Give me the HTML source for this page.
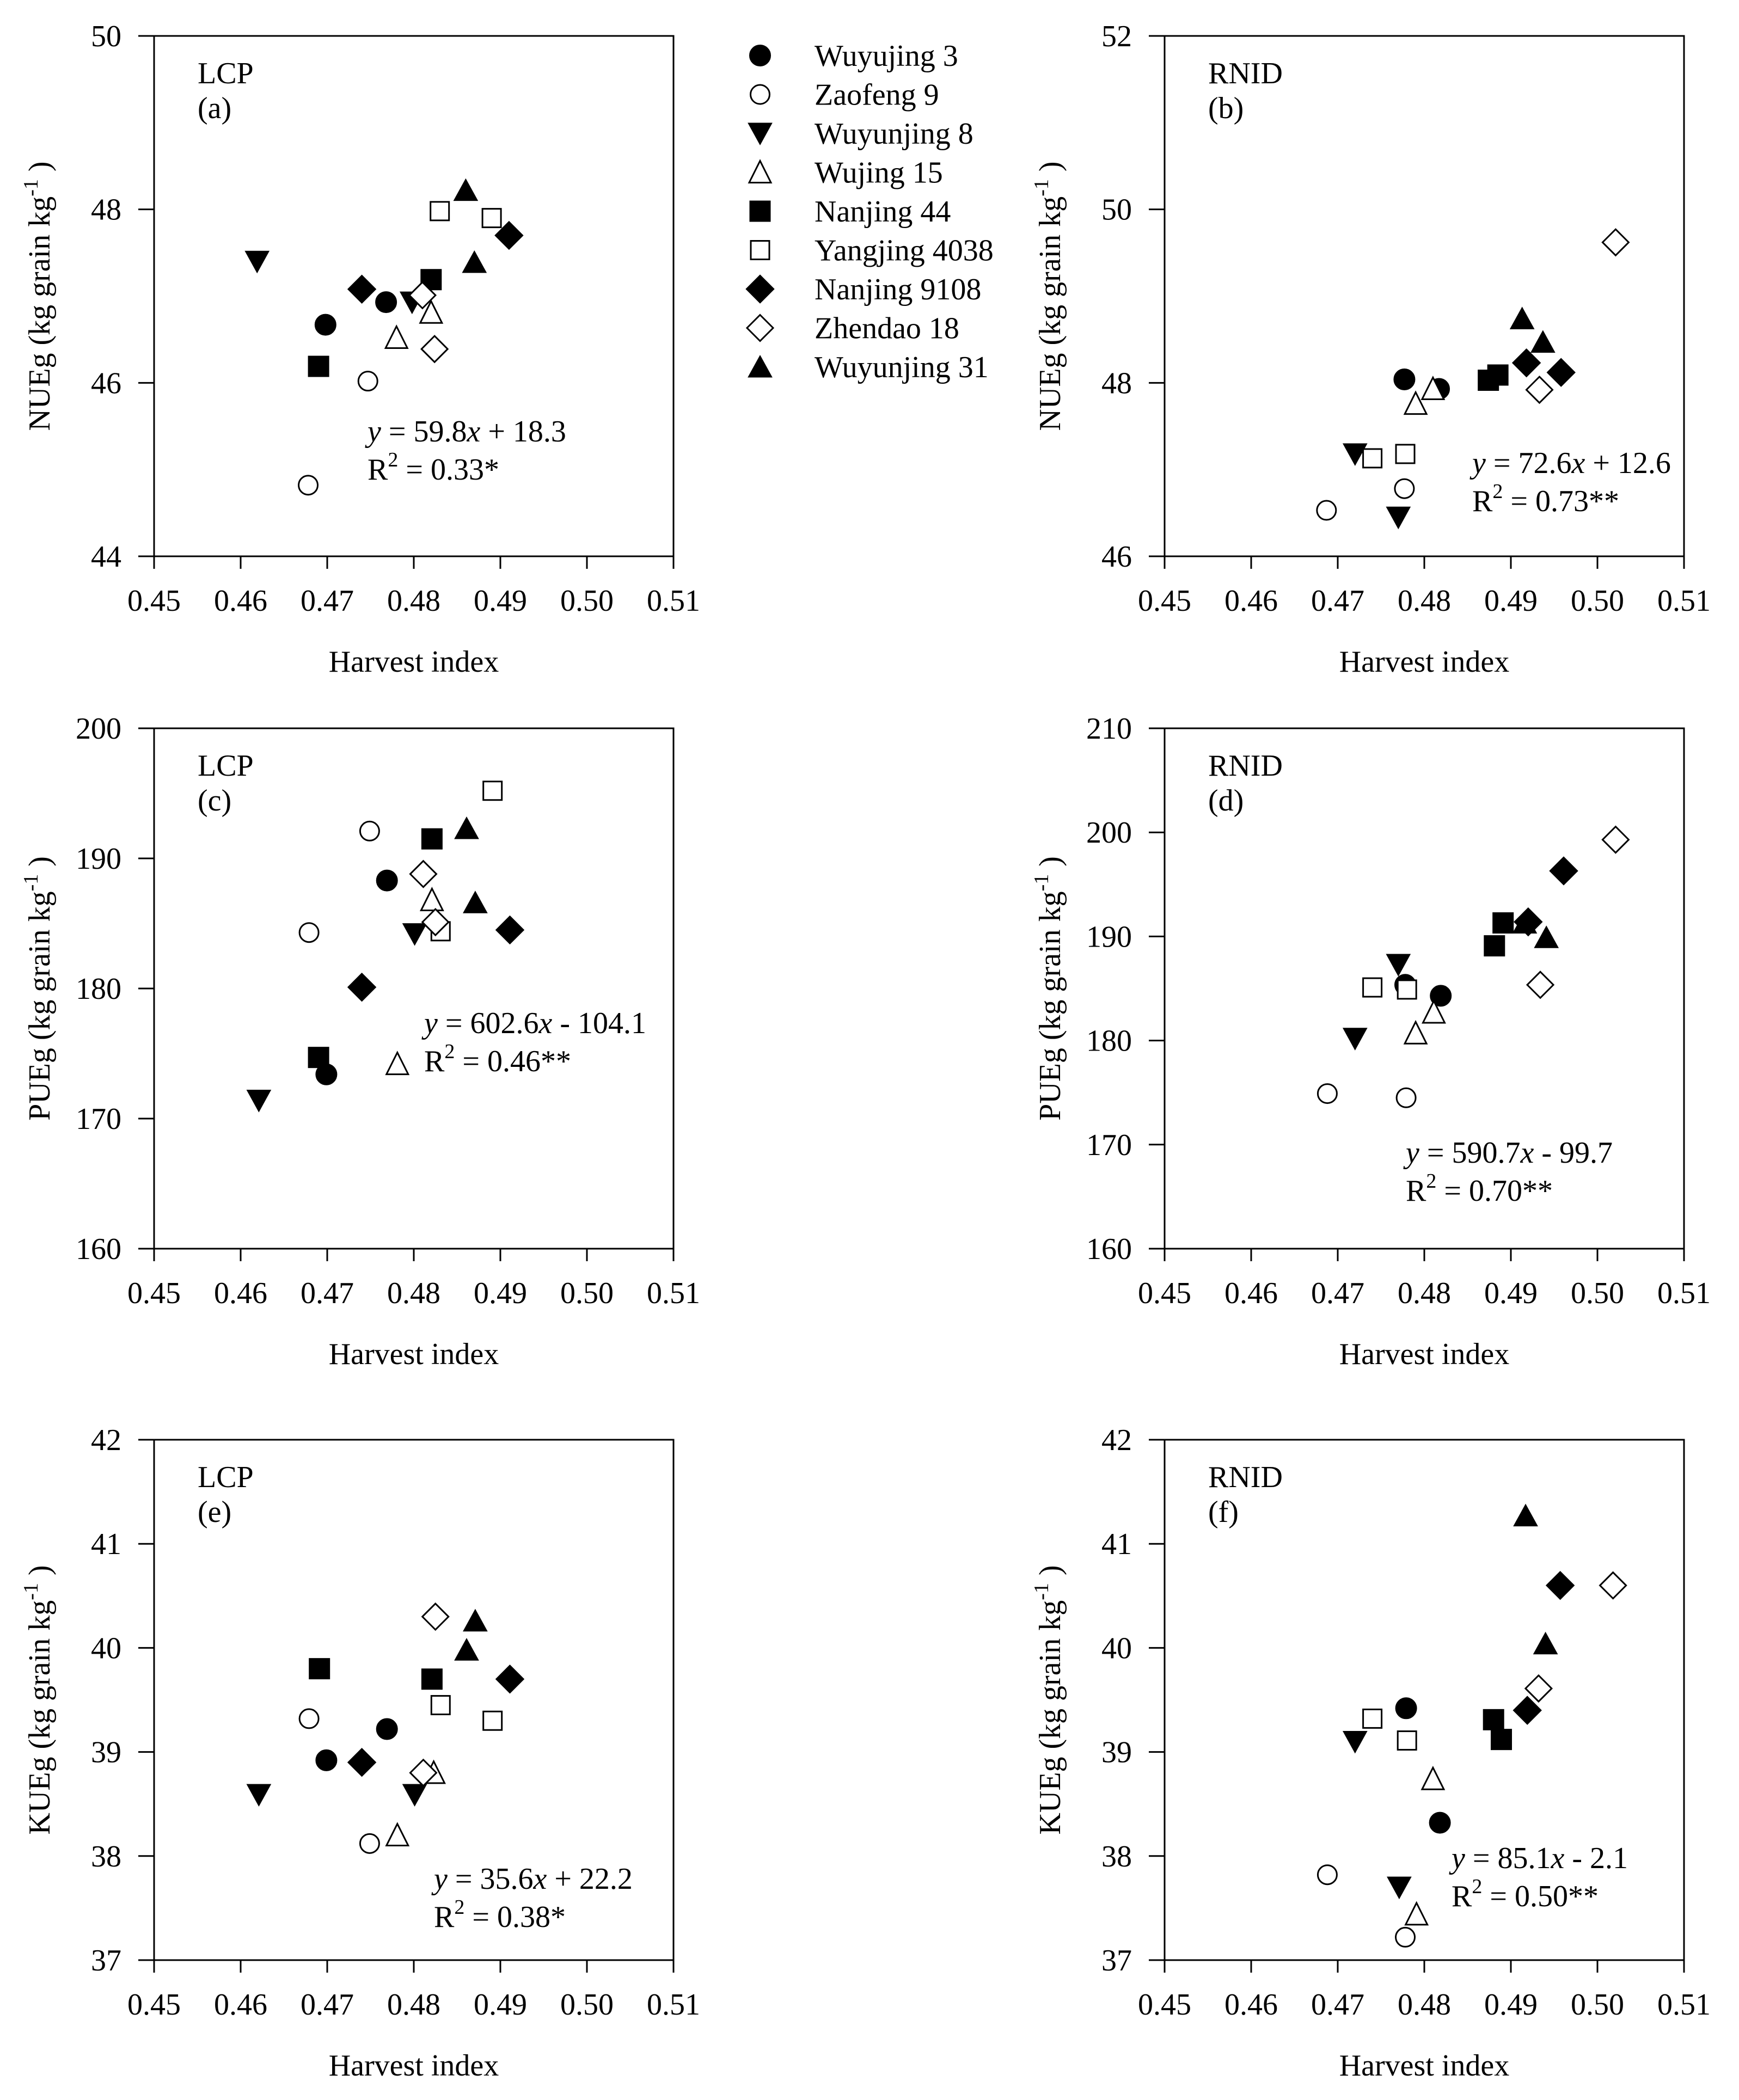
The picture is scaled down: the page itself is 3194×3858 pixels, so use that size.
<!DOCTYPE html>
<html><head><meta charset="utf-8"><style>
html,body{margin:0;padding:0;background:#fff;}
svg{display:block;font-family:"Liberation Serif","Times New Roman",serif;}
svg text{font-family:"Liberation Serif","Times New Roman",serif;}
</style></head><body>
<svg id="fig" width="3194" height="3858" viewBox="0 0 3194 3858" xmlns="http://www.w3.org/2000/svg"></svg>
<script>
// ---- data arrays (order: each variety twice) ----
const varieties = ["Wuyujing 3","Zaofeng 9","Wuyunjing 8","Wujing 15","Nanjing 44","Yangjing 4038","Nanjing 9108","Zhendao 18","Wuyunjing 31"];
const markerTypes = ["circleF","circleO","triDownF","triO","squareF","squareO","diamondF","diamondO","triF"];
const xTicks = [0.45,0.46,0.47,0.48,0.49,0.50,0.51];
const xTickLabels = ["0.45","0.46","0.47","0.48","0.49","0.50","0.51"];

const aX = [0.4698,0.4768,0.4747,0.4678,0.4619,0.4798,0.478,0.482,0.469,0.482,0.483,0.489,0.474,0.491,0.481,0.4824,0.486,0.487];
const aY = [46.67,46.93,46.02,44.82,47.40,46.93,46.52,46.81,46.19,47.19,47.98,47.90,47.08,47.70,47.01,46.39,48.22,47.39];
const bX = [0.4777,0.4817,0.4687,0.4777,0.472,0.477,0.479,0.481,0.4874,0.4885,0.474,0.4778,0.4918,0.4958,0.5021,0.4933,0.4913,0.4937];
const bY = [48.04,47.93,46.53,46.78,47.18,46.45,47.76,47.93,48.03,48.09,47.13,47.18,48.23,48.12,49.62,47.92,48.74,48.47];
const cX = [0.4769,0.4699,0.4749,0.4679,0.4621,0.4801,0.4821,0.4781,0.4821,0.4690,0.4891,0.4831,0.4740,0.4911,0.4811,0.4825,0.4861,0.4871];
const cY = [188.3,173.4,192.1,184.3,171.4,184.2,186.8,174.2,191.5,174.7,195.2,184.4,180.1,184.5,188.8,185.1,192.3,186.6];
const dX = [0.4778,0.4819,0.4688,0.4779,0.4770,0.4720,0.4811,0.4790,0.4891,0.4881,0.4740,0.4780,0.4920,0.4961,0.5021,0.4934,0.4916,0.4941];
const dY = [185.35,184.3,174.9,174.5,187.3,180.2,182.7,180.7,191.3,189.1,185.1,184.9,191.4,196.3,199.3,185.35,191.3,189.9];
const eX = [0.4699,0.4769,0.4679,0.4749,0.4621,0.4801,0.4781,0.4823,0.4691,0.4821,0.4831,0.4891,0.4740,0.4911,0.4825,0.4811,0.4871,0.4861];
const eY = [38.92,39.22,39.32,38.12,38.59,38.59,38.20,38.80,39.80,39.70,39.45,39.30,38.90,39.70,40.30,38.80,40.26,39.98];
const fX = [0.4779,0.4818,0.4688,0.4778,0.4720,0.4771,0.4810,0.4791,0.4880,0.4889,0.4740,0.4780,0.4919,0.4957,0.5018,0.4932,0.4917,0.4940];
const fY = [39.42,38.32,37.82,37.22,39.10,37.70,38.74,37.44,39.31,39.12,39.32,39.11,39.40,40.60,40.60,39.61,41.27,40.04];

const aYTicks = [44,46,48,50];
const bYTicks = [46,48,50,52];
const cYTicks = [160,170,180,190,200];
const dYTicks = [160,170,180,190,200,210];
const eYTicks = [37,38,39,40,41,42];
const fYTicks = [37,38,39,40,41,42];

const panels = [
 {id:"a",site:"LCP",lab:"(a)",L:283,T:66,xs:aX,ys:aY,yt:aYTicks,ytitle:"NUEg",eq1:["59.8","+ 18.3"],eq2:"0.33*",ex:392,ey:745},
 {id:"b",site:"RNID",lab:"(b)",L:2139,T:66,xs:bX,ys:bY,yt:bYTicks,ytitle:"NUEg",eq1:["72.6","+ 12.6"],eq2:"0.73**",ex:565,ey:803},
 {id:"c",site:"LCP",lab:"(c)",L:283,T:1338,xs:cX,ys:cY,yt:cYTicks,ytitle:"PUEg",eq1:["602.6","- 104.1"],eq2:"0.46**",ex:496,ey:560},
 {id:"d",site:"RNID",lab:"(d)",L:2139,T:1338,xs:dX,ys:dY,yt:dYTicks,ytitle:"PUEg",eq1:["590.7","- 99.7"],eq2:"0.70**",ex:443,ey:798},
 {id:"e",site:"LCP",lab:"(e)",L:283,T:2645,xs:eX,ys:eY,yt:eYTicks,ytitle:"KUEg",eq1:["35.6","+ 22.2"],eq2:"0.38*",ex:514,ey:825},
 {id:"f",site:"RNID",lab:"(f)",L:2139,T:2645,xs:fX,ys:fY,yt:fYTicks,ytitle:"KUEg",eq1:["85.1","- 2.1"],eq2:"0.50**",ex:527,ey:787}
];
const W = 954, H = 956;
const FONT = '"Liberation Serif","Times New Roman",serif';
const NS = "http://www.w3.org/2000/svg";
const svg = document.getElementById("fig");
function mk(tag, attrs, parent){
  const e = document.createElementNS(NS, tag);
  for (const k in attrs) e.setAttribute(k, attrs[k]);
  if (tag === "text") e.setAttribute("font-family", FONT);
  (parent||svg).appendChild(e);
  return e;
}
function marker(type, cx, cy, g){
  let e;
  const filled = type.endsWith("F");
  const fill = filled ? "#000" : "#fff";
  const st = {fill:fill, stroke:"#000", "stroke-width": filled?1:3};
  if (type.startsWith("circle")) {
    e = mk("circle", Object.assign({cx:cx, cy:cy, r:filled?19.5:17.5}, st), g);
  } else if (type.startsWith("square")) {
    const s = filled?38:34;
    e = mk("rect", Object.assign({x:cx-s/2, y:cy-s/2, width:s, height:s}, st), g);
  } else if (type.startsWith("diamond")) {
    const w = filled?26:24, h = filled?26:24;
    e = mk("polygon", Object.assign({points:`${cx},${cy-h} ${cx+w},${cy} ${cx},${cy+h} ${cx-w},${cy}`}, st), g);
  } else if (type === "triDownF") {
    e = mk("polygon", Object.assign({points:`${cx-22},${cy-19} ${cx+22},${cy-19} ${cx},${cy+21}`}, st), g);
  } else {
    const w = filled?22:20;
    e = mk("polygon", Object.assign({points:`${cx-w},${cy+19} ${cx+w},${cy+19} ${cx},${cy-21}`}, st), g);
  }
  return e;
}

panels.forEach(p => {
  const g = mk("g", {});
  
  
  const y0 = p.yt[0], y1 = p.yt[p.yt.length-1];
  const sx = v => p.L + (v - 0.45) / 0.06 * W;
  const sy = v => p.T + H - (v - y0) / (y1 - y0) * H;

  const box = mk("rect", {x:p.L, y:p.T, width:W, height:H, fill:"none", stroke:"#000", "stroke-width":3}, g);
  
  

  xTicks.forEach((t, i) => {
    const x = sx(t);
    const tk = mk("line", {x1:x, y1:p.T+H, x2:x, y2:p.T+H+23, stroke:"#000", "stroke-width":3}, g);
    
    
    const tl = mk("text", {x:x, y:p.T+H+100, "text-anchor":"middle", "font-size":56}, g);
    tl.textContent = xTickLabels[i];
    
    
  });
  p.yt.forEach(t => {
    const y = sy(t);
    const tk = mk("line", {x1:p.L-29, y1:y, x2:p.L, y2:y, stroke:"#000", "stroke-width":3}, g);
    
    
    const tl = mk("text", {x:p.L-60, y:y+19, "text-anchor":"end", "font-size":56}, g);
    tl.textContent = String(t);
    
    
  });

  const xt = mk("text", {x:p.L+W/2, y:p.T+H+212, "text-anchor":"middle", "font-size":56}, g);
  xt.textContent = "Harvest index";
  
  

  const ycx = p.L - 192, ycy = p.T + H/2;
  const yt = mk("text", {x:ycx, y:ycy, "text-anchor":"middle", "font-size":56, transform:`rotate(-90 ${ycx} ${ycy})`}, g);
  
  
  yt.appendChild(document.createTextNode(p.ytitle + " (kg grain kg"));
  const sup = mk("tspan", {dy:-22, "font-size":38}, yt); sup.textContent = "-1";
  const rest = mk("tspan", {dy:22}, yt); rest.textContent = " )";

  const s1 = mk("text", {x:p.L+80, y:p.T+87, "font-size":56}, g);
  s1.textContent = p.site;
  
  
  const s2 = mk("text", {x:p.L+80, y:p.T+151, "font-size":56}, g);
  s2.textContent = p.lab;
  
  

  p.xs.forEach((xv, i) => {
    const m = marker(markerTypes[Math.floor(i/2)], sx(xv), sy(p.ys[i]), g);
    
    
  });

  const e1 = mk("text", {x:p.L+p.ex, y:p.T+p.ey, "font-size":56}, g);
  
  
  const iy = mk("tspan", {"font-style":"italic"}, e1); iy.textContent = "y";
  e1.appendChild(document.createTextNode(" = " + p.eq1[0]));
  const ix = mk("tspan", {"font-style":"italic"}, e1); ix.textContent = "x";
  e1.appendChild(document.createTextNode(" " + p.eq1[1]));
  const e2 = mk("text", {x:p.L+p.ex, y:p.T+p.ey+70, "font-size":56}, g);
  
  
  e2.appendChild(document.createTextNode("R"));
  const s = mk("tspan", {dy:-24, "font-size":38}, e2); s.textContent = "2";
  const r = mk("tspan", {dy:24}, e2); r.textContent = " = " + p.eq2;
});

// legend
const lg = mk("g", {});


varieties.forEach((v, i) => {
  const base = 121 + i * 71.5;
  const m = marker(markerTypes[i], 1396, base - 19, lg);
  
  
  const t = mk("text", {x:1496, y:base, "font-size":56}, lg);
  t.textContent = v;
  
  
});
</script>
</body></html>
